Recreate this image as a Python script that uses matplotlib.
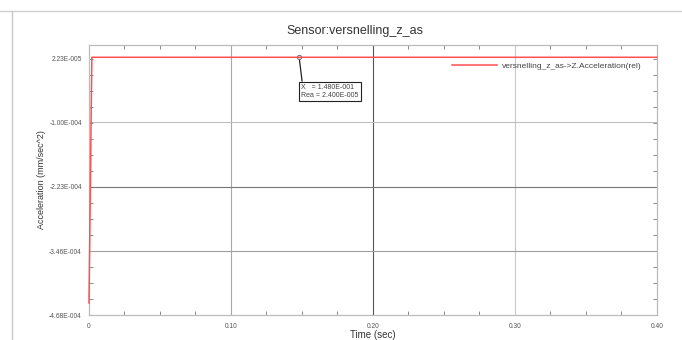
import matplotlib
matplotlib.use("Agg")
import matplotlib.pyplot as plt
from matplotlib.lines import Line2D
from matplotlib.ticker import AutoMinorLocator

plt.rcParams['font.family'] = ['Liberation Sans', 'DejaVu Sans']

# Signal: a step from the start value up to the settled acceleration
time_s = [0.0, 0.002, 0.40]
accel = [-4.45e-4, 2.40e-5, 2.40e-5]

# Probe readout
probe_x = 0.148
probe_y = 2.40e-5

x_ticks = [0.0, 0.10, 0.20, 0.30, 0.40]
x_tick_labels = ["0", "0.10", "0.20", "0.30", "0.40"]
y_ticks = [2.23e-5, -1.00e-4, -2.23e-4, -3.46e-4, -4.68e-4]
y_tick_labels = ["2.23E-005", "-1.00E-004", "-2.23E-004", "-3.46E-004", "-4.68E-004"]
x_grid_colors = ["#a8a8a8", "#555555", "#c8c8c8"]
y_grid_colors = ["#c0c0c0", "#777777", "#a0a0a0"]

fig = plt.figure(figsize=(6.82, 3.40), dpi=100)
ax = fig.add_axes([0.1305, 0.0735, 0.8328, 0.7941])

ax.plot(time_s, accel, color="#ff5050", lw=1.1, zorder=3, clip_on=False,
        label="versnelling_z_as->Z.Acceleration(rel)")
ax.plot([probe_x], [probe_y], marker="o", ms=3, mfc="none", mec="#777777",
        mew=0.8, zorder=4)

ax.set_xlim(0.0, 0.40)
ax.set_ylim(-4.68e-4, 4.74e-5)

ax.set_xticks(x_ticks)
ax.set_xticklabels(x_tick_labels)
ax.set_yticks(y_ticks)
ax.set_yticklabels(y_tick_labels)
ax.xaxis.set_minor_locator(AutoMinorLocator(4))
ax.yaxis.set_minor_locator(AutoMinorLocator(4))

ax.tick_params(which="major", length=0, labelsize=4.8, labelcolor="#555555")
ax.tick_params(axis="y", which="major", pad=5)
ax.tick_params(axis="x", which="major", pad=6)
ax.tick_params(which="minor", direction="in", length=3, width=0.6, color="#777777",
               top=True, right=True)

for xv, c in zip(x_ticks[1:-1], x_grid_colors):
    ax.axvline(xv, color=c, lw=0.8, zorder=0)
for yv, c in zip(y_ticks[1:-1], y_grid_colors):
    ax.axhline(yv, color=c, lw=0.8, zorder=0)

for side in ax.spines.values():
    side.set_color("#bbbbbb")
    side.set_linewidth(0.9)

ax.set_title("Sensor:versnelling_z_as", fontsize=9, color="#333333", pad=8, x=0.468)
ax.set_xlabel("Time (sec)", fontsize=7, color="#333333", labelpad=0)
ax.set_ylabel("Acceleration (mm/sec^2)", fontsize=6.5, color="#333333", labelpad=2)

ax.annotate("X   = 1.480E-001\nRea = 2.400E-005",
            xy=(probe_x, probe_y), xytext=(1.5, -19.0), textcoords="offset points",
            ha="left", va="top", fontsize=5, color="#444444",
            bbox=dict(boxstyle="square,pad=0.3", fc="white", ec="#222222", lw=0.8),
            arrowprops=dict(arrowstyle="-", color="#222222", lw=0.9,
                            shrinkA=0, shrinkB=1.5, relpos=(0.02, 1.0)))

ax.legend(loc="upper right", bbox_to_anchor=(0.978, 0.95), frameon=False,
          fontsize=6.0, handlelength=5.4, handletextpad=0.6, labelcolor="#444444",
          borderaxespad=0)

# Window frame lines
fig.add_artist(Line2D([0.0, 1.0], [1 - 11 / 340, 1 - 11 / 340],
                      transform=fig.transFigure, color="#d0d0d0", lw=1))
fig.add_artist(Line2D([12 / 682, 12 / 682], [0.0, 1 - 11 / 340],
                      transform=fig.transFigure, color="#c8c8c8", lw=1))

fig.savefig("out.png", dpi=100, facecolor="white")
